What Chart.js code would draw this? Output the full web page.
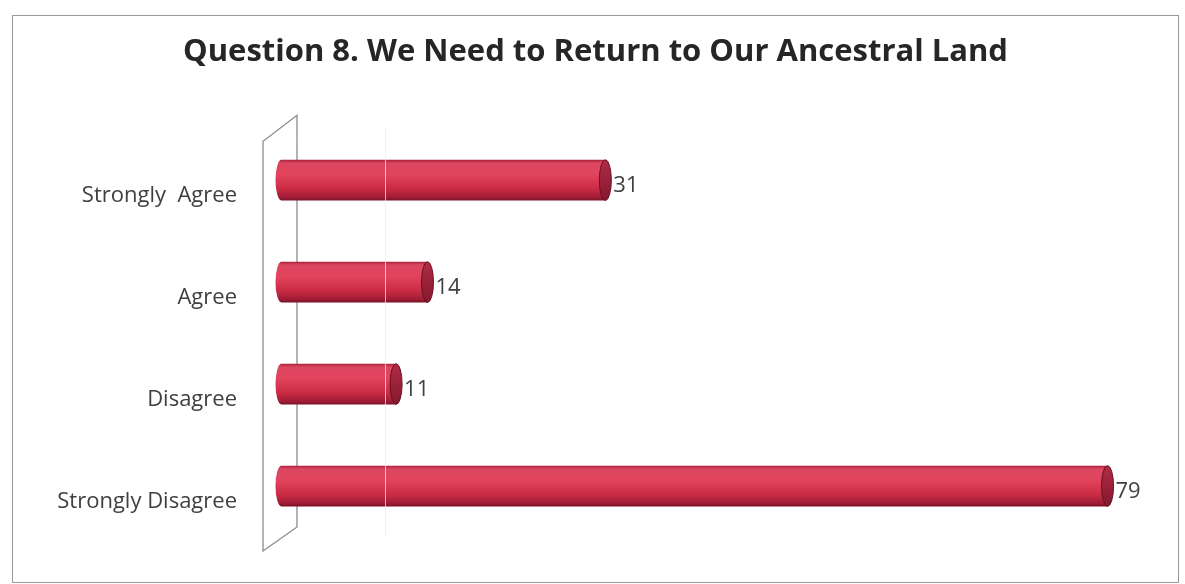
<!DOCTYPE html>
<html>
<head>
<meta charset="utf-8">
<script src="https://cdn.jsdelivr.net/npm/chart.js@4.4.0/dist/chart.umd.min.js"></script>
<style>
  body { margin: 0; background: #fff; }
  #box {
    position: absolute; left: 12px; top: 15px;
    width: 1167px; height: 568px; box-sizing: border-box;
    border: 1px solid #9a9a9a; background: #fff;
  }
  canvas { display: block; }
</style>
</head>
<body>
<div id="box"><canvas id="c" width="1165" height="566"></canvas></div>
<script>
// Antworten und Anzahl
const categories = ['Strongly  Agree', 'Agree', 'Disagree', 'Strongly Disagree'];
const counts = [31, 14, 11, 79];
const chartTitle = 'Question 8. We Need to Return to Our Ancestral Land';

// Zylinder-Look: Verlauf auf dem Balken, Ellipsen an beiden Enden
const cylinder = {
  id: 'cylinder',
  beforeDraw(chart) {
    // Rückwand (3D-Ebene links)
    const { ctx, chartArea: a } = chart;
    ctx.save();
    ctx.strokeStyle = '#8c8c8c';
    ctx.lineWidth = 1.3;
    ctx.beginPath();
    ctx.moveTo(a.left - 18, a.bottom + 14);
    ctx.lineTo(a.left - 18, a.top + 12);
    ctx.lineTo(a.left + 16, a.top - 14);
    ctx.lineTo(a.left + 16, a.bottom - 10);
    ctx.closePath();
    ctx.stroke();
    ctx.restore();
  },
  afterDatasetsDraw(chart) {
    const ctx = chart.ctx;
    chart.getDatasetMeta(0).data.forEach((bar, i) => {
      const h = bar.height, top = bar.y - h / 2, rx = 6;
      const g = ctx.createLinearGradient(0, top, 0, top + h);
      g.addColorStop(0, '#a82038');
      g.addColorStop(0.08, '#dc4660');
      g.addColorStop(0.35, '#e2445e');
      g.addColorStop(0.7, '#cc2c45');
      g.addColorStop(0.92, '#a01c36');
      g.addColorStop(1, '#781226');
      ctx.save();
      // Körper
      ctx.fillStyle = g;
      ctx.beginPath();
      ctx.ellipse(bar.base, bar.y, rx, h / 2, 0, Math.PI / 2, Math.PI * 1.5);
      ctx.lineTo(bar.x, top);
      ctx.lineTo(bar.x, top + h);
      ctx.closePath();
      ctx.fill();
      // Endkappe
      ctx.beginPath();
      ctx.ellipse(bar.x, bar.y, rx, h / 2, 0, 0, Math.PI * 2);
      const cg = ctx.createLinearGradient(0, top, 0, top + h);
      cg.addColorStop(0, '#b02c46');
      cg.addColorStop(1, '#84182e');
      ctx.fillStyle = cg;
      ctx.fill();
      ctx.strokeStyle = '#6a1022';
      ctx.lineWidth = 1;
      ctx.stroke();
      // Wert
      ctx.fillStyle = '#404040';
      ctx.font = '22px "Open Sans"';
      ctx.textAlign = 'left';
      ctx.textBaseline = 'middle';
      ctx.fillText(String(counts[i]), bar.x + rx + 2, bar.y + 6);
      ctx.restore();
    });
  }
};

new Chart(document.getElementById('c'), {
  type: 'bar',
  data: {
    labels: categories,
    datasets: [{
      data: counts,
      backgroundColor: 'rgba(0,0,0,0)',
      borderWidth: 0,
      barPercentage: 0.4,
      categoryPercentage: 1
    }]
  },
  options: {
    indexAxis: 'y',
    responsive: false,
    animation: false,
    layout: { padding: { left: 0, right: 0, top: 0, bottom: 45 } },
    plugins: {
      legend: { display: false },
      tooltip: { enabled: false },
      title: {
        display: true,
        text: chartTitle,
        color: '#262626',
        font: { family: 'Open Sans', size: 31, weight: 'bold' },
        padding: { top: 18, bottom: 58 }
      }
    },
    scales: {
      x: {
        min: 0, max: 80,
        ticks: { display: false, stepSize: 10 },
        border: { display: false },
        grid: {
          z: 1,
          drawTicks: false,
          color: c => c.tick && c.tick.value === 10 ? 'rgba(255,225,232,0.75)' : 'rgba(0,0,0,0)'
        },
        afterFit: s => { s.height = 0; }
      },
      y: {
        ticks: { color: '#404040', font: { family: 'Open Sans', size: 22 }, padding: 44, labelOffset: 16 },
        border: { display: false },
        grid: { display: false, drawTicks: false },
        afterFit: s => { s.width = 268; s.paddingTop = 0; s.paddingBottom = 0; }
      },
      // leere rechte Achse, damit der Titel über die volle Breite zentriert bleibt
      yRight: {
        position: 'right',
        ticks: { display: false },
        border: { display: false },
        grid: { display: false, drawTicks: false },
        afterFit: s => { s.width = 60; s.paddingTop = 0; s.paddingBottom = 0; }
      }
    }
  },
  plugins: [cylinder]
});
</script>
</body>
</html>
